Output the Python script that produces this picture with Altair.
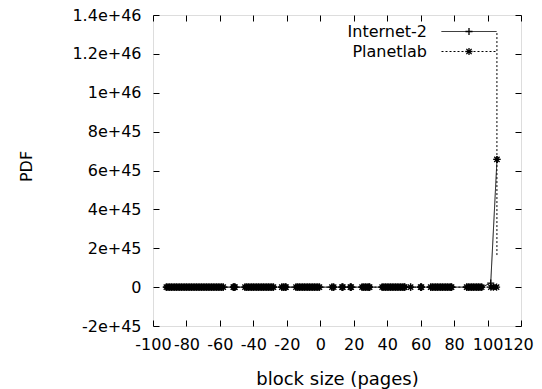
import altair as alt
import pandas as pd

# ---- data ----
series_names = ["Internet-2", "Planetlab"]

# x positions of the points lying on PDF = 0 (shared by both series)
zero_x = [-92, -91, -90, -89, -88, -87, -86, -85, -84, -83, -82, -81, -80, -79, -78,
          -77, -76, -75, -74, -73, -72, -71, -70, -69, -68, -67, -66, -65, -64, -63,
          -62, -61, -60, -59, -58,
          -52, -51.5, -51,
          -45, -44, -43, -42, -41, -40, -39, -38, -37, -36, -35, -34, -33, -32, -31,
          -30, -29, -28,
          -23, -22, -21, -20.5,
          -14.5, -13.5, -12.5, -11.5, -10.5, -9.5, -8.5, -7.5, -6.5, -5.5, -4.5,
          -3.5, -2.5, -1.5, -0.5,
          7, 8, 13, 13.5, 18, 18.5,
          25, 26, 27, 28, 29, 29.5,
          37, 38, 39, 40, 41, 42, 43, 44, 45, 46, 47, 48, 49, 50, 50.5,
          54, 60, 60.5,
          66, 67, 68, 69, 70, 71, 72, 73, 74, 75, 76, 77, 78, 78.5,
          87.5, 88.5, 89.5, 90.5, 91.5, 92.5, 93.5, 94.5, 95.5, 96.5]
zero_y = [0.0] * len(zero_x)

internet_tail_x = [101.9, 105.65]
internet_tail_y = [0.21e45, 6.57e45]

planet_tail_x = [102.0, 103.5, 105.4]
planet_tail_y = [0.0, 0.0, 0.0]

planet_spike_x = [105.6, 105.6, 105.6]
planet_spike_y = [1.65e45, 6.57e45, 13.12e45]
planet_spike_mark = [0, 1, 0]

x_ticks = [-100, -80, -60, -40, -20, 0, 20, 40, 60, 80, 100, 120]
y_ticks = [-2e45, 0, 2e45, 4e45, 6e45, 8e45, 1e46, 1.2e46, 1.4e46]

legend_labels = series_names

# ---- build table ----
rows = []
o = 0
for xv, yv in zip(zero_x + internet_tail_x, zero_y + internet_tail_y):
    rows.append({"series": "Internet-2", "x": xv, "y": yv, "seg": "i1", "ord": o, "mark": 1}); o += 1
for xv, yv in zip(zero_x + planet_tail_x, zero_y + planet_tail_y):
    rows.append({"series": "Planetlab", "x": xv, "y": yv, "seg": "p1", "ord": o, "mark": 1}); o += 1
for xv, yv, mk in zip(planet_spike_x, planet_spike_y, planet_spike_mark):
    rows.append({"series": "Planetlab", "x": xv, "y": yv, "seg": "p2", "ord": o, "mark": mk}); o += 1
df = pd.DataFrame(rows)

FONT = "DejaVu Sans"
FS = 16
W, H = 368, 311

plus_path = "M-1,0L1,0M0,-1L0,1"
star_path = "M-1,0L1,0M0,-1L0,1M-0.75,-0.75L0.75,0.75M-0.75,0.75L0.75,-0.75"

xscale = alt.Scale(domain=[-100, 120], nice=False, zero=False)
yscale = alt.Scale(domain=[-2e45, 1.4e46], nice=False, zero=False)

x_label_axis = alt.Axis(orient="bottom", values=x_ticks, ticks=False, tickSize=0, domain=False,
                        grid=False, labelFont=FONT, labelFontSize=FS, labelColor="black",
                        labelPadding=10, labelFlush=False, labelOverlap=False,
                        labelExpr="'' + datum.value",
                        labelOffset={"condition": {"test": "datum.value == 120", "value": -3}, "value": 0},
                        title="block size (pages)", titleFont=FONT, titleFontSize=18,
                        titleFontWeight="normal", titleColor="black",
                        titleX=184, titleY=58, titleBaseline="alphabetic", titleAlign="center")
y_label_axis = alt.Axis(orient="left", values=y_ticks, ticks=False, tickSize=0, domain=False,
                        grid=False, labelFont=FONT, labelFontSize=FS, labelColor="black",
                        labelPadding=12, labelFlush=False, labelOverlap=False,
                        labelExpr="datum.value == 0 ? '0' : replace(format(datum.value, '~e'), '\u2212', '-')",
                        title="PDF", titleFont=FONT, titleFontSize=FS,
                        titleFontWeight="normal", titleColor="black",
                        titleX=-121.5, titleY=151, titleBaseline="alphabetic", titleAlign="center")


def tick_axis(orient, vals):
    return alt.Axis(orient=orient, values=vals, labels=False, domain=False, ticks=True,
                    tickSize=6, tickColor="black", tickWidth=1, offset=-6, grid=False,
                    title=None)


base = alt.Chart(df)

lines = base.mark_line(color="black", strokeWidth=1).encode(
    x=alt.X("x:Q", scale=xscale, axis=x_label_axis),
    y=alt.Y("y:Q", scale=yscale, axis=y_label_axis),
    strokeDash=alt.StrokeDash("series:N", scale=alt.Scale(domain=series_names, range=[[1, 0], [2, 2]]), legend=None),
    detail="seg:N",
    order="ord:Q",
)

points = base.mark_point(filled=False, color="black", strokeWidth=1.3, size=50, opacity=1).encode(
    x=alt.X("x:Q", scale=xscale, axis=None),
    y=alt.Y("y:Q", scale=yscale, axis=None),
    shape=alt.Shape("series:N", scale=alt.Scale(domain=series_names, range=[plus_path, star_path]), legend=None),
).transform_filter(alt.datum.mark == 1)

ticks_bl = base.mark_point(opacity=0).encode(
    x=alt.X("x:Q", scale=xscale, axis=tick_axis("bottom", x_ticks)),
    y=alt.Y("y:Q", scale=yscale, axis=tick_axis("left", y_ticks)),
)
ticks_tr = base.mark_point(opacity=0).encode(
    x=alt.X("x:Q", scale=xscale, axis=tick_axis("top", x_ticks)),
    y=alt.Y("y:Q", scale=yscale, axis=tick_axis("right", y_ticks)),
)

leg_df = pd.DataFrame({"label": legend_labels})
leg_layers = []
for i, (lab, dash, path) in enumerate(zip(legend_labels, [[1, 0], [2, 2]], [plus_path, star_path])):
    ly = 16.5 + 20 * i
    lb = alt.Chart(leg_df).transform_filter(alt.datum.label == lab)
    leg_layers.append(lb.mark_text(align="right", baseline="middle", font=FONT, fontSize=FS,
                                   color="black").encode(
        x=alt.value(274), y=alt.value(ly), text="label:N"))
    leg_layers.append(lb.mark_rule(color="black", strokeWidth=1, strokeDash=dash).encode(
        x=alt.value(288.5), x2=alt.value(343.5), y=alt.value(ly)))
    leg_layers.append(lb.mark_point(filled=False, color="black", strokeWidth=1.3, size=50,
                                    shape=path, opacity=1).encode(
        x=alt.value(316), y=alt.value(ly)))

chart = alt.layer(lines, points, ticks_bl, ticks_tr, *leg_layers).resolve_axis(
    x="independent", y="independent"
).properties(
    width=W, height=H,
    autosize=alt.AutoSizeParams(type="none"),
    padding={"left": 145, "top": 7, "right": 13, "bottom": 63},
).configure_view(stroke="black", strokeWidth=1).configure(background="white")

chart.save("out.html", embed_options={"renderer": "svg", "actions": False})
